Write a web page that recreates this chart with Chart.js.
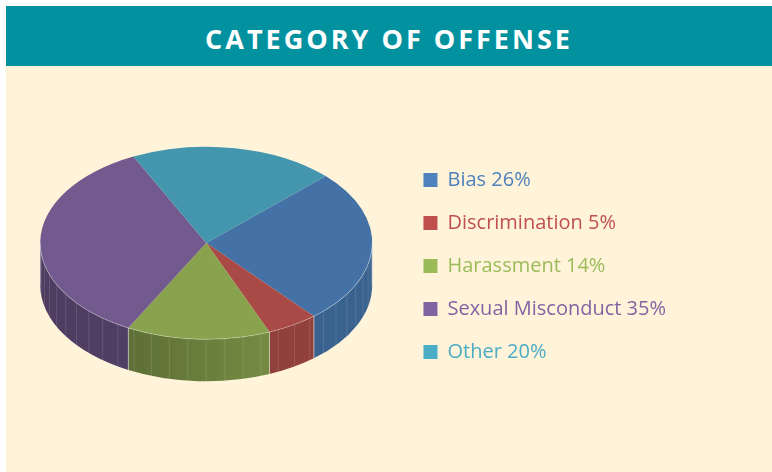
<!DOCTYPE html>
<html>
<head>
<meta charset="utf-8">
<script src="https://cdn.jsdelivr.net/npm/chart.js@4/dist/chart.umd.min.js"></script>
<style>
  html, body { margin: 0; padding: 0; background: #fff; }
  #card { position: absolute; left: 6px; top: 6px; width: 766px; height: 466px; background: #fff3da; }
  #title {
    box-sizing: border-box; height: 60px; padding-top: 4px;
    background: #02919f; color: #fff;
    font: 700 27px "Open Sans", sans-serif; letter-spacing: 3px;
    display: flex; align-items: center; justify-content: center;
  }
  #wrap { position: absolute; left: 0; top: 60px; width: 766px; height: 406px; }
</style>
</head>
<body>
<div id="card">
  <div id="title">CATEGORY OF OFFENSE</div>
  <div id="wrap"><canvas id="offenseChart"></canvas></div>
</div>
<script>
const categories = ['Bias', 'Discrimination', 'Harassment', 'Sexual Misconduct', 'Other'];
const values = [26, 5, 14, 35, 20];

// top face colours are a bit darker than the legend swatches
const topColors = ['#4472a6', '#a94a46', '#88a24d', '#725a8f', '#4396ad'];
const legendColors = ['#4f81bd', '#c0504d', '#9bbb59', '#8064a2', '#4bacc6'];

const squash = 0.58;    // ellipse ratio of the tilted pie
const depth = 42;       // height of the side wall
const tiltShift = -23;  // pie sits a little above the legend's middle

function shade(hex, f) {
    const n = parseInt(hex.slice(1), 16);
    const r = Math.round(((n >> 16) & 255) * f);
    const g = Math.round(((n >> 8) & 255) * f);
    const b = Math.round((n & 255) * f);
    return `rgb(${r},${g},${b})`;
}

const pie3d = {
    id: 'pie3d',
    beforeDatasetsDraw(chart) {
        const ctx = chart.ctx;
        const arcs = chart.getDatasetMeta(0).data;
        const { x: cx, outerRadius: r } = arcs[0];
        const cy = arcs[0].y + tiltShift;
        const ry = r * squash;

        // side walls, only the front half is visible
        arcs.forEach((arc, i) => {
            for (let n = -1; n <= 1; n++) {
                const a = Math.max(arc.startAngle, n * 2 * Math.PI);
                const b = Math.min(arc.endAngle, n * 2 * Math.PI + Math.PI);
                if (b <= a) continue;
                const grad = ctx.createLinearGradient(cx - r, 0, cx + r, 0);
                grad.addColorStop(0, shade(topColors[i], 0.68));
                grad.addColorStop(0.3, shade(topColors[i], 0.7));
                grad.addColorStop(0.68, shade(topColors[i], 0.86));
                grad.addColorStop(1, shade(topColors[i], 0.86));
                ctx.beginPath();
                ctx.ellipse(cx, cy, r, ry, 0, a, b, false);
                ctx.ellipse(cx, cy + depth, r, ry, 0, b, a, true);
                ctx.closePath();
                ctx.fillStyle = grad;
                ctx.fill();

                // faint facet lines on the wall
                ctx.strokeStyle = 'rgba(255,255,255,0.12)';
                ctx.lineWidth = 1;
                const step = Math.PI / 28;
                for (let t = Math.ceil(a / step) * step; t < b; t += step) {
                    const px = cx + r * Math.cos(t), py = cy + ry * Math.sin(t);
                    ctx.beginPath();
                    ctx.moveTo(px, py);
                    ctx.lineTo(px, py + depth);
                    ctx.stroke();
                }
                // slice edge
                ctx.strokeStyle = 'rgba(255,255,255,0.35)';
                [a, b].forEach(t => {
                    const px = cx + r * Math.cos(t), py = cy + ry * Math.sin(t);
                    ctx.beginPath();
                    ctx.moveTo(px, py);
                    ctx.lineTo(px, py + depth);
                    ctx.stroke();
                });
            }
        });

        // squash the top face around the shifted centre
        ctx.save();
        ctx.translate(0, cy - arcs[0].y * squash);
        ctx.scale(1, squash);
    },
    afterDatasetsDraw(chart) {
        const ctx = chart.ctx;
        ctx.restore();
        const { x: cx, y, outerRadius: r } = chart.getDatasetMeta(0).data[0];
        ctx.beginPath();
        ctx.ellipse(cx, y + tiltShift, r, r * squash, 0, 0, Math.PI, false);
        ctx.strokeStyle = 'rgba(255,255,255,0.3)';
        ctx.lineWidth = 1;
        ctx.stroke();
    }
};

new Chart(document.getElementById('offenseChart'), {
    type: 'pie',
    data: {
        labels: categories,
        datasets: [{
            data: values,
            backgroundColor: topColors,
            borderWidth: 0,
            radius: 166,
            clip: false
        }]
    },
    options: {
        responsive: true,
        maintainAspectRatio: false,
        animation: false,
        rotation: 46,
        layout: { padding: { left: 6, top: 2, bottom: 8, right: 96 } },
        plugins: {
            tooltip: { enabled: false },
            legend: {
                position: 'right',
                align: 'center',
                labels: {
                    boxWidth: 14,
                    boxHeight: 14,
                    padding: 23,
                    font: { family: '"Open Sans", sans-serif', size: 20 },
                    generateLabels: () => categories.map((c, i) => ({
                        text: `${c} ${values[i]}%`,
                        fillStyle: legendColors[i],
                        strokeStyle: legendColors[i],
                        fontColor: legendColors[i],
                        lineWidth: 0,
                        hidden: false,
                        index: i
                    }))
                }
            }
        }
    },
    plugins: [pie3d]
});
</script>
</body>
</html>
